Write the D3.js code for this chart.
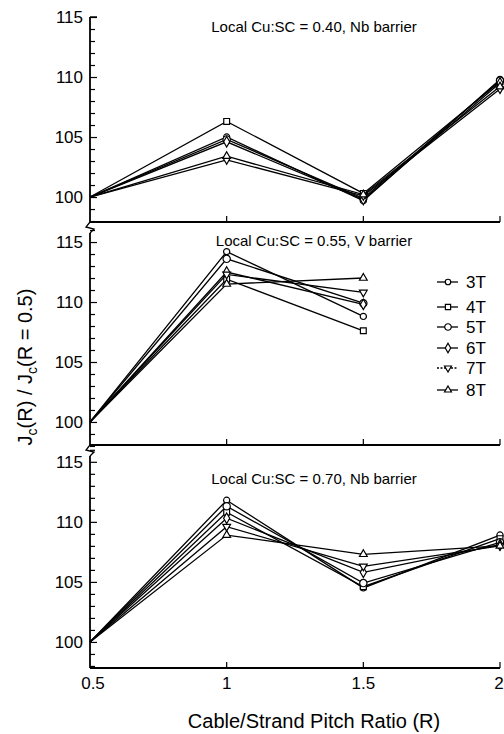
<!DOCTYPE html>
<html>
<head>
<meta charset="utf-8">
<script src="https://cdn.jsdelivr.net/npm/d3@7"></script>
<style>
  body { margin: 0; background: #fff; }
  text { font-family: "Liberation Sans", Arial, sans-serif; fill: #000; }
</style>
</head>
<body>
<div id="chart"></div>
<script>
// pitch ratios
const ratios = [0.5, 1, 1.5, 2];
const fields = ["3T", "4T", "5T", "6T", "7T", "8T"];
const panelTitles = ["Local Cu:SC = 0.40, Nb barrier", "Local Cu:SC = 0.55, V barrier", "Local Cu:SC = 0.70, Nb barrier"];
const yTicks = [100, 105, 110, 115];
const xTicks = [0.5, 1, 1.5, 2];

// Jc(R)/Jc(0.5) per field, panel 1 (0.40 Nb)
const p1_3T = [100, 105.0, 99.7, 109.8];
const p1_4T = [100, 106.3, 100.3, 109.6];
const p1_5T = [100, 104.8, 99.9, 109.7];
const p1_6T = [100, 104.6, 99.8, 109.5];
const p1_7T = [100, 103.1, 100.1, 109.0];
const p1_8T = [100, 103.4, 100.2, 109.2];
// panel 2 (0.55 V), no data at R = 2
const p2_3T = [100, 114.2, 108.8];
const p2_4T = [100, 111.9, 107.6];
const p2_5T = [100, 113.6, 109.9];
const p2_6T = [100, 112.5, 109.8];
const p2_7T = [100, 112.3, 110.8];
const p2_8T = [100, 111.5, 112.0];
// panel 3 (0.70 Nb)
const p3_3T = [100, 111.8, 104.5, 108.9];
const p3_4T = [100, 110.8, 104.6, 108.6];
const p3_5T = [100, 111.3, 104.9, 108.3];
const p3_6T = [100, 110.3, 105.8, 108.1];
const p3_7T = [100, 109.6, 106.3, 108.0];
const p3_8T = [100, 108.9, 107.3, 108.0];

const panelData = [
  [p1_3T, p1_4T, p1_5T, p1_6T, p1_7T, p1_8T],
  [p2_3T, p2_4T, p2_5T, p2_6T, p2_7T, p2_8T],
  [p3_3T, p3_4T, p3_5T, p3_6T, p3_7T, p3_8T]
];

const w = 504, h = 734;
const left = 90, right = 500;
// pixel layout of each panel: top, bottom, and the domain those map to
const panels = [
  { top: 17, bottom: 222, domain: [97.92, 115], titleY: 32, brk: false },
  { top: 222, bottom: 445, domain: [98.08, 116.67], titleY: 246, brk: true },
  { top: 445, bottom: 668, domain: [97.83, 116.4], titleY: 484, brk: true }
];

const shapes = {
  "3T": d3.symbolCircle, "4T": d3.symbolSquare, "5T": d3.symbolCircle,
  "6T": d3.symbolDiamond, "7T": "down", "8T": d3.symbolTriangle
};
const sizes = { "3T": 30, "4T": 34, "5T": 42, "6T": 32, "7T": 26, "8T": 26 };

function marker(sel, f, s) {
  const sz = sizes[f] * (s || 1);
  if (shapes[f] === "down") {
    sel.attr("d", d3.symbol(d3.symbolTriangle, sz)()).attr("transform", sel.attr("transform") + " rotate(180)");
  } else {
    sel.attr("d", d3.symbol(shapes[f], sz)());
  }
}

const svg = d3.select("#chart").append("svg")
  .attr("width", w).attr("height", h);

const x = d3.scaleLinear().domain([0.5, 2]).range([left, right]);

panels.forEach((p, pi) => {
  const y = d3.scaleLinear().domain(p.domain).range([p.bottom, p.top]);
  const g = svg.append("g");

  // left axis, ticks inside
  const yAxis = d3.axisRight(y)
    .tickValues(d3.range(98, Math.floor(p.domain[1]) + 1))
    .tickSize(5)
    .tickFormat("");
  const ya = g.append("g").attr("transform", "translate(" + left + ",0)").call(yAxis);
  ya.select(".domain").remove();
  ya.selectAll("line").attr("stroke", "#000").attr("stroke-width", 1.2)
    .attr("x2", d => d % 5 === 0 ? 7 : 5);
  g.append("line").attr("x1", left).attr("x2", left)
    .attr("y1", p.brk ? p.top + 11 : y(115)).attr("y2", p.bottom)
    .attr("stroke", "#000").attr("stroke-width", 1.8);
  if (!p.brk) {
    g.append("line").attr("x1", left).attr("x2", left + 7)
      .attr("y1", y(115)).attr("y2", y(115)).attr("stroke", "#000").attr("stroke-width", 1.4);
  } else {
    // axis break mark
    g.append("path")
      .attr("d", "M" + left + "," + p.top + " L" + (left - 4) + "," + (p.top + 5) + " L" + (left + 4) + "," + (p.top + 7) + " L" + left + "," + (p.top + 11))
      .attr("fill", "none").attr("stroke", "#000").attr("stroke-width", 1.3);
  }
  g.selectAll(".ylab").data(yTicks).enter().append("text")
    .attr("x", left - 7).attr("y", d => y(d) + 6)
    .attr("text-anchor", "end").style("font-size", "17px")
    .text(d => d);

  // bottom axis
  g.append("line").attr("x1", left).attr("x2", right)
    .attr("y1", p.bottom).attr("y2", p.bottom)
    .attr("stroke", "#000").attr("stroke-width", 1.8);
  g.selectAll(".xt").data(xTicks.slice(1)).enter().append("line")
    .attr("x1", d => x(d)).attr("x2", d => x(d))
    .attr("y1", p.bottom).attr("y2", p.bottom - 6)
    .attr("stroke", "#000").attr("stroke-width", 1.2);

  g.append("text").attr("x", 314).attr("y", p.titleY)
    .attr("text-anchor", "middle").style("font-size", "15px")
    .text(panelTitles[pi]);

  const line = d3.line().x((d, i) => x(ratios[i])).y(d => y(d));
  panelData[pi].forEach((vals, si) => {
    const f = fields[si];
    g.append("path").datum(vals)
      .attr("d", line).attr("fill", "none")
      .attr("stroke", "#000").attr("stroke-width", 1.3);
    g.selectAll(".m" + f).data(vals).enter().append("path")
      .attr("transform", (d, i) => "translate(" + x(ratios[i]) + "," + y(d) + ")")
      .attr("fill", "#fff").attr("stroke", "#000").attr("stroke-width", 1.2)
      .each(function (d, i) {
        if (i === 0) { d3.select(this).remove(); return; }
        marker(d3.select(this), f);
      });
  });
});

// x tick labels under the last panel
svg.selectAll(".xlab").data(xTicks).enter().append("text")
  .attr("x", d => x(d) + (d === 0.5 ? 3 : d === 2 ? -1 : 0))
  .attr("y", 689).attr("text-anchor", "middle").style("font-size", "17px")
  .text(d => d);

svg.append("text").attr("x", 314).attr("y", 728)
  .attr("text-anchor", "middle").style("font-size", "20px")
  .text("Cable/Strand Pitch Ratio (R)");

// y label with subscripts
const yl = svg.append("text")
  .attr("transform", "translate(32,367) rotate(-90)")
  .attr("text-anchor", "middle").style("font-size", "20px");
yl.append("tspan").text("J");
yl.append("tspan").attr("dy", 5).style("font-size", "14px").text("c");
yl.append("tspan").attr("dy", -5).text("(R) / J");
yl.append("tspan").attr("dy", 5).style("font-size", "14px").text("c");
yl.append("tspan").attr("dy", -5).text("(R = 0.5)");

// legend
const legY = [282, 307, 327, 348, 368, 390];
const leg = svg.append("g");
fields.forEach((f, i) => {
  leg.append("line").attr("x1", 437).attr("x2", 458)
    .attr("y1", legY[i]).attr("y2", legY[i])
    .attr("stroke", "#000").attr("stroke-width", 1.3)
    .attr("stroke-dasharray", f === "7T" ? "2,1.5" : null);
  const m = leg.append("path").attr("transform", "translate(448," + legY[i] + ")")
    .attr("fill", "#fff").attr("stroke", "#000").attr("stroke-width", 1.2);
  marker(m, f, 0.8);
  leg.append("text").attr("x", 466).attr("y", legY[i] + 6)
    .style("font-size", "17px").text(f);
});
</script>
</body>
</html>
